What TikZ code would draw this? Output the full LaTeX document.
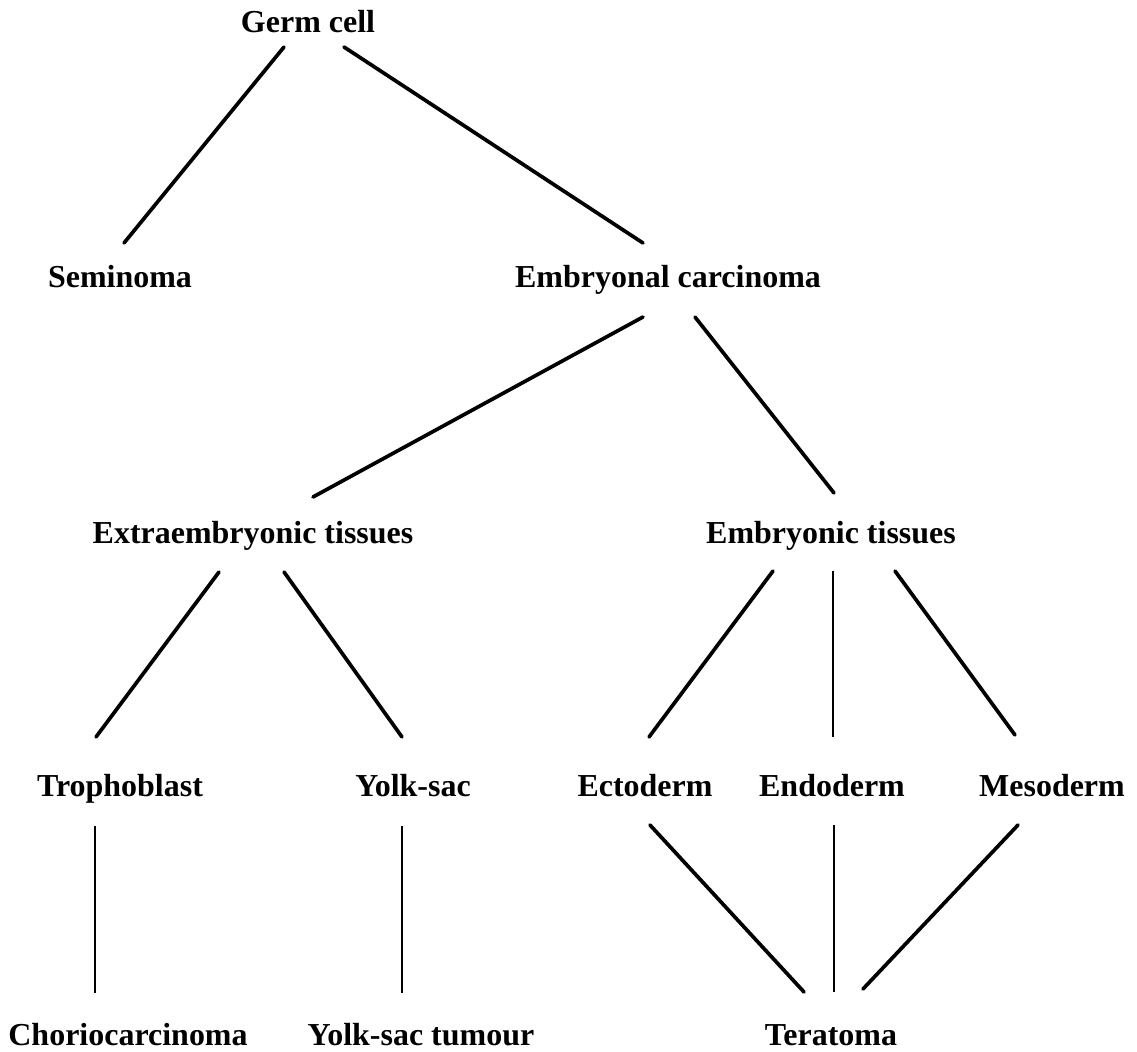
\documentclass[tikz,border=0pt]{standalone}
\usepackage{fontspec}
\setmainfont{Liberation Serif}
\usetikzlibrary{calc}
\begin{document}
\begin{tikzpicture}[x=0.02cm,y=-0.02cm,
  lbl/.style={anchor=base,inner sep=0pt,font=\fontsize{18.2}{20}\selectfont\bfseries},
  diag/.style={line width=2.1pt,line cap=round},
  vert/.style={line width=1.4pt}]
\useasboundingbox[fill=white] (0,0) rectangle (1137,1052);
\node[lbl] (germ)   at (308,32)  {Germ cell};
\node[lbl] (sem)    at (120,287) {Seminoma};
\node[lbl] (emb)    at (668,287) {Embryonal carcinoma};
\node[lbl] (extra)  at (253,543) {Extraembryonic tissues};
\node[lbl] (embt)   at (831,543) {Embryonic tissues};
\node[lbl] (tropho) at (120,796) {Trophoblast};
\node[lbl] (yolk)   at (413,796) {Yolk-sac};
\node[lbl] (ecto)   at (645,796) {Ectoderm};
\node[lbl] (endo)   at (832,796) {Endoderm};
\node[lbl] (meso)   at (1052,796) {Mesoderm};
\node[lbl] (chorio) at (128,1045) {Choriocarcinoma};
\node[lbl] (yst)    at (421,1045) {Yolk-sac tumour};
\node[lbl] (terat)  at (831,1045) {Teratoma};
% connectors
\draw[diag] ($(germ.base)+(-24,15)$) -- ($(sem.base)+(4,-44)$);
\draw[diag] ($(germ.base)+(36,15)$) -- ($(emb.base)+(-25,-44)$);
\draw[diag] ($(emb.base)+(-25,30)$) -- ($(extra.base)+(60,-46)$);
\draw[diag] ($(emb.base)+(27,30)$) -- ($(embt.base)+(3,-50)$);
\draw[diag] ($(extra.base)+(-34,29)$) -- ($(tropho.base)+(-24,-59)$);
\draw[diag] ($(extra.base)+(31,29)$) -- ($(yolk.base)+(-11,-59)$);
\draw[diag] ($(embt.base)+(-58,28)$) -- ($(ecto.base)+(4,-59)$);
\draw[vert] ($(embt.base)+(2,28)$) -- ($(endo.base)+(1,-59)$);
\draw[diag] ($(embt.base)+(64,28)$) -- ($(meso.base)+(-37,-61)$);
\draw[vert] ($(tropho.base)+(-25,30)$) -- ($(chorio.base)+(-33,-52)$);
\draw[vert] ($(yolk.base)+(-11,30)$) -- ($(yst.base)+(-19,-52)$);
\draw[diag] ($(ecto.base)+(5,29)$) -- ($(terat.base)+(-27,-53)$);
\draw[vert] ($(endo.base)+(2,29)$) -- ($(terat.base)+(3,-53)$);
\draw[diag] ($(meso.base)+(-34,29)$) -- ($(terat.base)+(32,-56)$);
\end{tikzpicture}
\end{document}
